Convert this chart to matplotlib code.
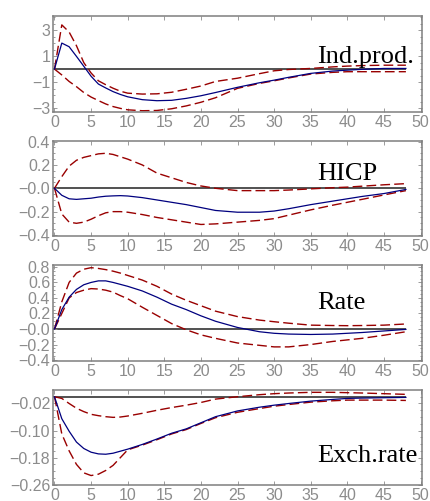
import matplotlib.pyplot as plt
from matplotlib.ticker import AutoMinorLocator

# horizons (months)
h = [0, 1, 2, 3, 4, 5, 6, 7, 8, 9, 10, 12, 14, 16, 18, 20, 22, 25, 28, 30, 32, 35, 38, 40, 42, 45, 48]

# industrial production
ip = [0, 2.0, 1.72, 0.98, 0.22, -0.55, -1.15, -1.45, -1.73, -1.95, -2.13, -2.35, -2.43, -2.4, -2.25, -2.05,
      -1.8, -1.4, -1.05, -0.85, -0.63, -0.33, -0.15, -0.08, -0.02, 0.05, 0.05]
ip_up = [0, 3.4, 2.85, 1.8, 0.5, -0.3, -0.9, -1.2, -1.47, -1.7, -1.85, -1.92, -1.9, -1.78, -1.55, -1.3,
         -0.95, -0.7, -0.35, -0.13, -0.03, 0.05, 0.17, 0.23, 0.27, 0.3, 0.3]
ip_lo = [0, -0.45, -0.95, -1.35, -1.8, -2.15, -2.42, -2.68, -2.88, -3.02, -3.13, -3.2, -3.18, -3.05, -2.83, -2.55,
         -2.2, -1.48, -1.1, -0.9, -0.68, -0.38, -0.25, -0.2, -0.2, -0.2, -0.2]

# HICP
hicp = [0, -0.06, -0.09, -0.095, -0.09, -0.085, -0.075, -0.068, -0.065, -0.063, -0.066, -0.08, -0.1, -0.12,
        -0.14, -0.165, -0.19, -0.205, -0.205, -0.195, -0.175, -0.14, -0.11, -0.09, -0.07, -0.045, -0.01]
hicp_up = [0, 0.1, 0.19, 0.24, 0.265, 0.28, 0.295, 0.3, 0.29, 0.27, 0.25, 0.2, 0.13, 0.09, 0.05, 0.02,
           0.0, -0.02, -0.02, -0.02, -0.015, -0.005, 0.005, 0.01, 0.018, 0.03, 0.04]
hicp_lo = [0, -0.22, -0.29, -0.3, -0.29, -0.265, -0.235, -0.21, -0.2, -0.2, -0.205, -0.225, -0.25, -0.27,
           -0.29, -0.31, -0.305, -0.29, -0.275, -0.26, -0.23, -0.185, -0.145, -0.12, -0.095, -0.057, -0.02]

# interest rate
rate = [0, 0.25, 0.41, 0.51, 0.57, 0.6, 0.62, 0.62, 0.6, 0.575, 0.55, 0.49, 0.41, 0.32, 0.25, 0.17,
        0.1, 0.02, -0.035, -0.055, -0.065, -0.07, -0.065, -0.055, -0.045, -0.025, -0.005]
rate_up = [0, 0.35, 0.6, 0.72, 0.77, 0.79, 0.78, 0.765, 0.745, 0.72, 0.69, 0.63, 0.55, 0.45, 0.37, 0.3,
           0.23, 0.16, 0.115, 0.094, 0.075, 0.05, 0.045, 0.043, 0.045, 0.05, 0.065]
rate_lo = [0, 0.2, 0.4, 0.47, 0.5, 0.52, 0.515, 0.5, 0.475, 0.43, 0.39, 0.28, 0.175, 0.07, -0.01, -0.075,
           -0.12, -0.18, -0.21, -0.23, -0.23, -0.2, -0.16, -0.14, -0.12, -0.08, -0.035]

# exchange rate
exch = [0, -0.065, -0.102, -0.134, -0.153, -0.164, -0.169, -0.17, -0.167, -0.161, -0.155, -0.141, -0.125,
        -0.108, -0.095, -0.077, -0.059, -0.042, -0.031, -0.025, -0.02, -0.013, -0.008, -0.005, -0.004,
        -0.003, -0.002]
exch_up = [0, -0.005, -0.02, -0.034, -0.044, -0.052, -0.056, -0.059, -0.061, -0.06, -0.057, -0.049, -0.04,
           -0.032, -0.025, -0.017, -0.007, 0.0, 0.006, 0.009, 0.011, 0.013, 0.013, 0.012, 0.011, 0.009, 0.007]
exch_lo = [0, -0.11, -0.16, -0.2, -0.225, -0.233, -0.229, -0.218, -0.203, -0.18, -0.157, -0.143, -0.127,
           -0.11, -0.097, -0.079, -0.062, -0.046, -0.035, -0.028, -0.023, -0.016, -0.012, -0.01, -0.01,
           -0.01, -0.011]

titles = ['Ind.prod.', 'HICP', 'Rate', 'Exch.rate']
yticks = [[3, 1, -1, -3],
          [0.4, 0.2, 0, -0.2, -0.4],
          [0.8, 0.6, 0.4, 0.2, 0, -0.2, -0.4],
          [-0.02, -0.10, -0.18, -0.26]]
ylabels = [['3', '1', '\u22121', '\u22123'],
           ['0.4', '0.2', '\u22120.0', '\u22120.2', '\u22120.4'],
           ['0.8', '0.6', '0.4', '0.2', '\u22120.0', '\u22120.2', '\u22120.4'],
           ['\u22120.02', '\u22120.10', '\u22120.18', '\u22120.26']]
xticks = list(range(0, 51, 5))

series = [(ip, ip_up, ip_lo), (hicp, hicp_up, hicp_lo), (rate, rate_up, rate_lo), (exch, exch_up, exch_lo)]
ylims = [(-3.3, 4.08), (-0.409, 0.405), (-0.412, 0.824), (-0.261, 0.0198)]
title_y = [0.51, 0.59, 0.54, 0.24]
boxes = [(0.1233, 0.7764, 0.8581, 0.1916),
         (0.1233, 0.5289, 0.8581, 0.1896),
         (0.1233, 0.2794, 0.8581, 0.1916),
         (0.1233, 0.0319, 0.8581, 0.1896)]

gray = '#8c8c8c'

fig = plt.figure(figsize=(4.3, 5.01), dpi=100)

for i in range(4):
    ax = fig.add_axes(boxes[i])
    mid, up, lo = series[i]
    ax.hlines(0, -0.2, 48, color='#333333', lw=1.2, zorder=1)
    ax.plot(h, up, color='#990000', lw=1.0, dashes=(7, 3), zorder=2)
    ax.plot(h, lo, color='#990000', lw=1.0, dashes=(7, 3), zorder=2)
    ax.plot(h, mid, color='#00007f', lw=0.9, zorder=3)

    ax.set_xlim(-0.2, 50.2)
    ax.set_ylim(*ylims[i])
    ax.set_xticks(xticks)
    ax.set_xticklabels([str(t) for t in xticks])
    ax.set_yticks(yticks[i])
    ax.set_yticklabels(ylabels[i])
    ax.yaxis.set_minor_locator(AutoMinorLocator(4))
    ax.tick_params(which='both', direction='in', top=True, right=True, color=gray, width=0.6)
    ax.tick_params(which='major', length=3, labelsize=11.5, labelcolor=gray, pad=2)
    ax.tick_params(which='minor', length=1.5)
    for lab in ax.get_xticklabels() + ax.get_yticklabels():
        lab.set_family('Liberation Sans')
    for sp in ax.spines.values():
        sp.set_color('#7f7f7f')
        sp.set_linewidth(1.1)

    ax.text(0.715, title_y[i], titles[i], transform=ax.transAxes, ha='left', va='baseline',
            fontsize=19, family='Liberation Serif', color='black')

fig.savefig('out.png', dpi=100)
